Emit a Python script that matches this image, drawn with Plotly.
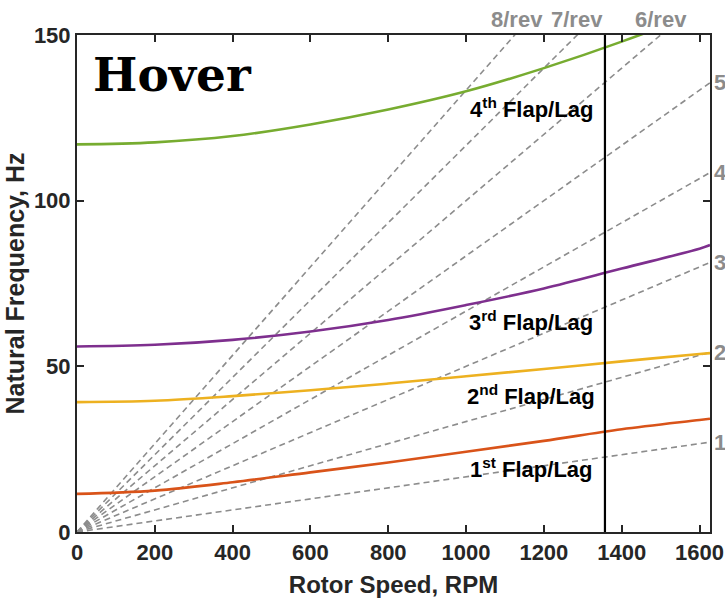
import plotly.graph_objects as go

# ---- data ----
rpm = [0, 200, 400, 600, 800, 1000, 1200, 1400, 1600, 1627]
mode1 = [11.5, 12.5, 15.0, 18.0, 21.0, 24.2, 27.5, 31.0, 33.8, 34.2]
mode2 = [39.2, 39.6, 41.0, 42.8, 44.8, 47.0, 49.2, 51.5, 53.7, 54.0]
mode3 = [56.0, 56.5, 58.0, 60.5, 64.0, 68.5, 73.5, 79.5, 85.5, 86.6]
mode4 = [117.0, 117.6, 119.5, 123.0, 127.5, 133.0, 140.0, 148.0, 157.0, 158.5]
mode_labels = ["1<sup>st</sup> Flap/Lag", "2<sup>nd</sup> Flap/Lag",
               "3<sup>rd</sup> Flap/Lag", "4<sup>th</sup> Flap/Lag"]
mode_colors = ["#D95319", "#EDB120", "#7E2F8E", "#77AC30"]
rev_orders = [1, 2, 3, 4, 5, 6, 7, 8]
top_rev_labels = ["8/rev", "7/rev", "6/rev"]
side_rev_labels = ["1", "2", "3", "4", "5"]
rpm_span = [0, 1627]
operating_rpm = 1357
x_ticks = [0, 200, 400, 600, 800, 1000, 1200, 1400, 1600]
y_ticks = [0, 50, 100, 150]

FONT = "Arial, Liberation Sans, sans-serif"
GRAY = "#8c8c8c"
AX = "#262626"

# plot-area pixel geometry (for paper-coordinate placement of outside labels)
L, R, T, B = 77, 710, 35, 532
def px_x(p):
    return (p - L) / (R - L)
def px_y(p):
    return (B - p) / (B - T)

fig = go.Figure()

# per-rev lines
for n in rev_orders:
    fig.add_trace(go.Scatter(
        x=rpm_span, y=[n * r / 60.0 for r in rpm_span], mode="lines",
        line=dict(color=GRAY, width=1.6, dash="6px,4px"),
        showlegend=False, hoverinfo="skip"))

# modes
for vals, col in zip([mode1, mode2, mode3, mode4], mode_colors):
    fig.add_trace(go.Scatter(
        x=rpm, y=vals, mode="lines", line=dict(color=col, width=2.6, shape="spline"),
        showlegend=False))

# operating line
fig.add_trace(go.Scatter(x=[operating_rpm, operating_rpm], y=[0, 150], mode="lines",
                         line=dict(color="black", width=2.2), showlegend=False))

ann = []
label_pos = [(1167, 19.2), (1167, 41.2), (1167, 63.6), (1167, 127.9)]
for (lx, ly), txt in zip(label_pos, mode_labels):
    ann.append(dict(x=lx, y=ly, xref="x", yref="y", text="<b>%s</b>" % txt,
                    xanchor="center", yanchor="middle",
                    showarrow=False, font=dict(family=FONT, size=22, color="black")))

# top rev labels
for txt, cx in zip(top_rev_labels, [517, 577, 661]):
    ann.append(dict(x=px_x(cx), y=px_y(20), xref="paper", yref="paper",
                    text="<b>%s</b>" % txt, xanchor="center", yanchor="middle",
                    showarrow=False, font=dict(family=FONT, size=22, color=GRAY)))

# right rev labels
for n, txt in zip(rev_orders[:5], side_rev_labels):
    ann.append(dict(x=1.0, y=n * rpm_span[1] / 60.0, xref="paper", yref="y",
                    text="<b>%s</b>" % txt, xanchor="left", yanchor="middle", xshift=2,
                    showarrow=False, font=dict(family=FONT, size=22, color=GRAY)))

ann.append(dict(x=px_x(91), y=px_y(45), xref="paper", yref="paper", text="<b>Hover</b>",
                xanchor="left", yanchor="top", showarrow=False,
                font=dict(family="DejaVu Serif, serif", size=47, color="black")))

axis_common = dict(showgrid=False, zeroline=False, showline=True, linecolor=AX,
                   linewidth=2, mirror="ticks", ticks="inside", ticklen=7,
                   tickwidth=2, tickcolor=AX, automargin=False,
                   tickfont=dict(family=FONT, size=22, color=AX, weight="bold"))

fig.update_layout(
    width=725, height=601, margin=dict(l=L, r=725 - R, t=T, b=601 - B),
    paper_bgcolor="white", plot_bgcolor="white", showlegend=False,
    xaxis=dict(range=rpm_span, tickvals=x_ticks,
               title=dict(text="<b>Rotor Speed, RPM</b>", standoff=12,
                          font=dict(family=FONT, size=24, color=AX)),
               **axis_common),
    yaxis=dict(range=[0, 150], tickvals=y_ticks,
               title=dict(text="<b>Natural Frequency, Hz</b>", standoff=2,
                          font=dict(family=FONT, size=25, color=AX)),
               **axis_common),
    annotations=ann,
)

fig.write_html("out.html")
